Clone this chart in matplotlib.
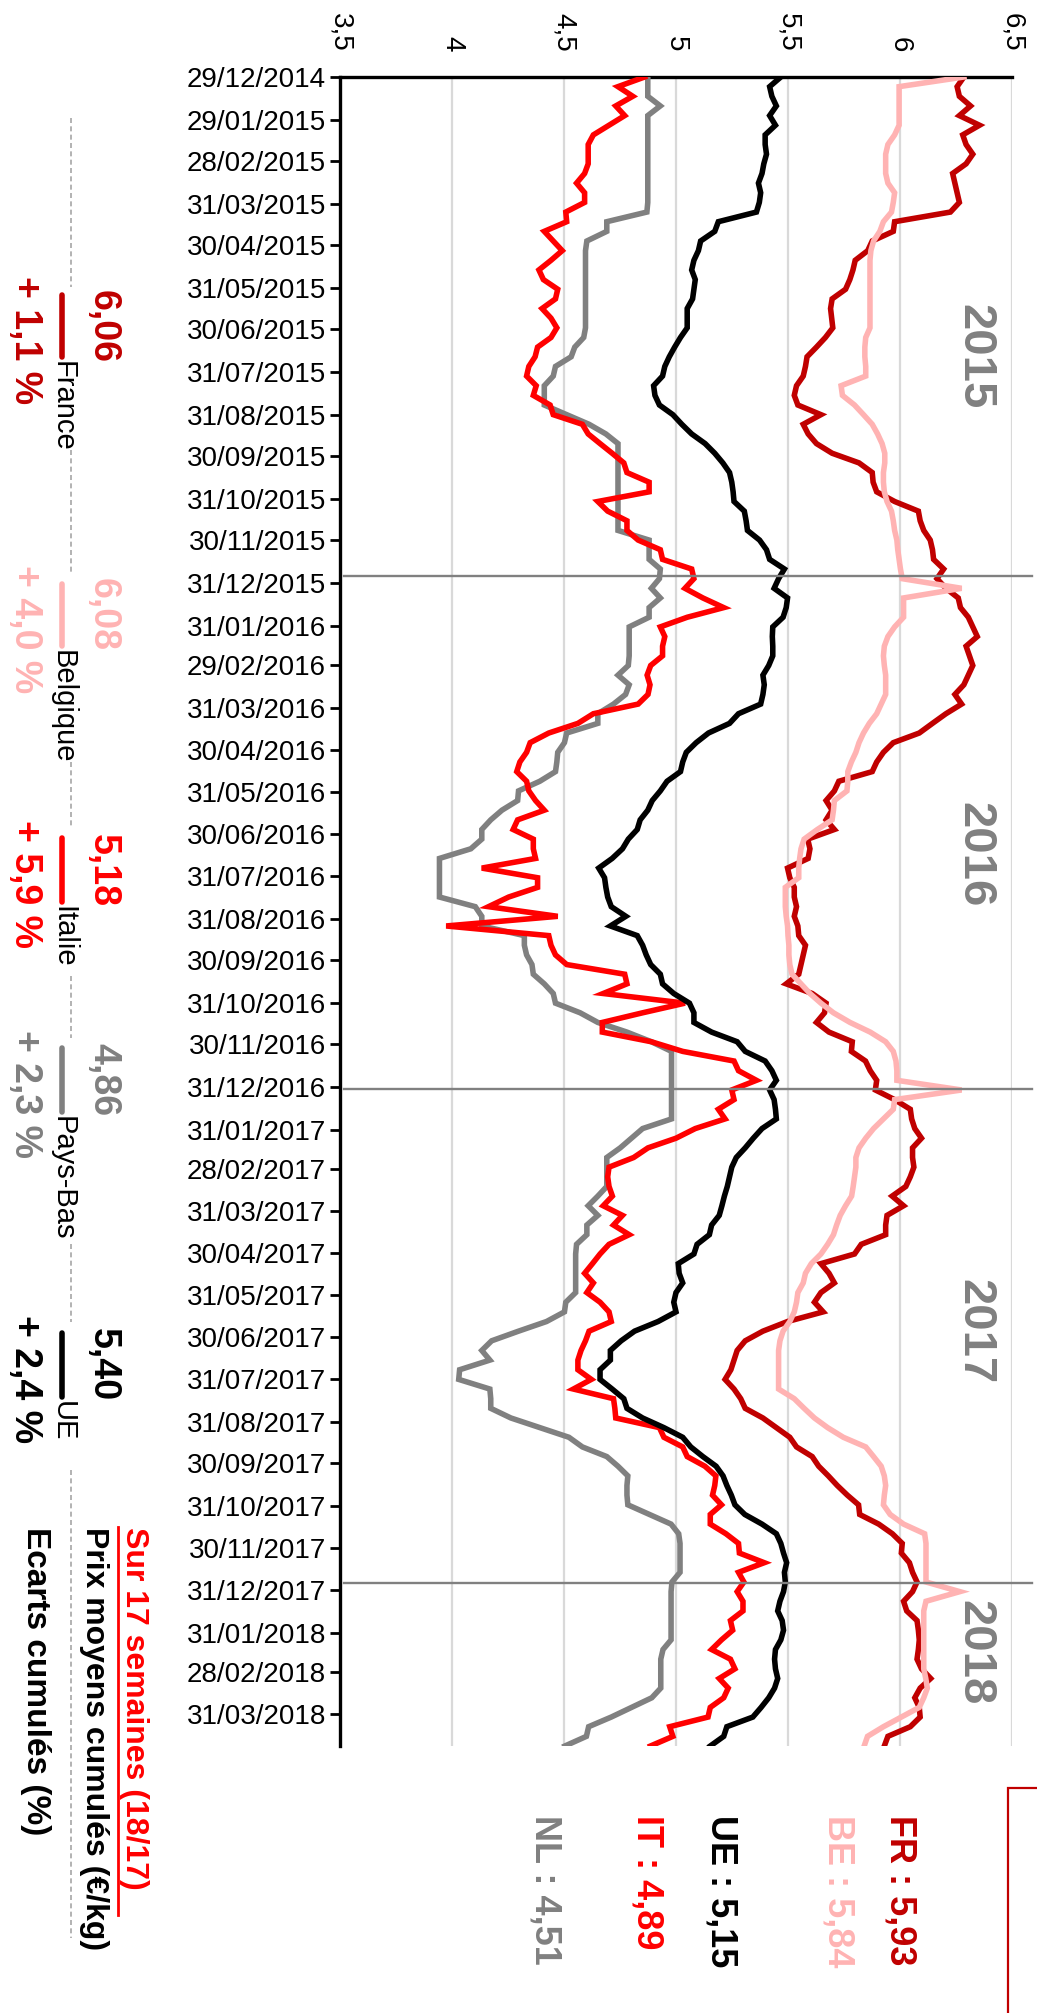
import matplotlib
matplotlib.use("Agg")
import matplotlib.pyplot as plt
import matplotlib.dates as mdates
import pandas as pd

plt.rcParams["font.family"] = ["Liberation Sans", "DejaVu Sans"]

# Weekly average prices (EUR/kg), first week starting 29/12/2014
start_date = "2014-12-29"

fr = [6.285, 6.255, 6.265, 6.315, 6.265, 6.355, 6.28, 6.295, 6.325, 6.295,
      6.235, 6.245, 6.255, 6.265, 6.225, 5.976, 5.97, 5.876, 5.856, 5.80,
      5.79, 5.776, 5.757, 5.697, 5.69, 5.695, 5.70, 5.667, 5.627, 5.585,
      5.578, 5.568, 5.538, 5.528, 5.544, 5.647, 5.568, 5.59, 5.627, 5.697,
      5.817, 5.876, 5.88, 5.896, 5.976, 6.082, 6.09, 6.106, 6.135, 6.145,
      6.15, 6.195, 6.165, 6.205, 6.26, 6.27, 6.305, 6.325, 6.345,
      6.295, 6.31, 6.325, 6.305, 6.285, 6.245, 6.275, 6.205, 6.145, 6.086,
      5.97, 5.926, 5.896, 5.876, 5.727, 5.707, 5.67, 5.697, 5.67, 5.707,
      5.588, 5.598, 5.59, 5.498, 5.508, 5.528, 5.528, 5.538, 5.528,
      5.544, 5.548, 5.578, 5.568, 5.558, 5.548, 5.492, 5.608, 5.67, 5.663,
      5.627, 5.683, 5.787, 5.783, 5.846, 5.867, 5.896, 5.89, 5.976, 6.046,
      6.052, 6.066, 6.096, 6.056, 6.056, 6.062, 6.046, 6.026, 5.965,
      6.016, 5.942, 5.936, 5.936, 5.827, 5.797, 5.647, 5.683, 5.707, 5.647,
      5.618, 5.657, 5.498, 5.388, 5.309, 5.273, 5.259, 5.245, 5.219, 5.259,
      5.289, 5.309, 5.388, 5.448, 5.508, 5.538, 5.608, 5.637, 5.68,
      5.72, 5.765, 5.815, 5.82, 5.905, 5.966, 6.01, 6.006, 6.042, 6.056,
      6.076, 6.056, 6.016, 6.03, 6.076, 6.082, 6.086, 6.082, 6.076, 6.096,
      6.137, 6.09, 6.066, 6.086, 6.09, 6.046, 5.946, 5.93]

be = [6.285, 5.996, 5.996, 5.996, 5.996, 5.996, 5.976, 5.946, 5.936, 5.936,
      5.936, 5.946, 5.976, 5.97, 5.962, 5.926, 5.91, 5.882, 5.87, 5.866,
      5.866, 5.866, 5.866, 5.866, 5.866, 5.866, 5.866, 5.847, 5.843, 5.843,
      5.847, 5.847, 5.737, 5.743, 5.797, 5.837, 5.876, 5.90, 5.92, 5.932,
      5.932, 5.926, 5.926, 5.93, 5.942, 5.962, 5.97, 5.976, 5.986, 5.99,
      5.996, 6.002, 6.01, 6.275, 6.016, 6.016, 6.016, 5.976, 5.946,
      5.93, 5.926, 5.93, 5.936, 5.936, 5.936, 5.916, 5.896, 5.863, 5.837,
      5.817, 5.803, 5.783, 5.767, 5.767, 5.763, 5.707, 5.703, 5.697, 5.631,
      5.572, 5.558, 5.552, 5.548, 5.548, 5.488, 5.488, 5.488, 5.492,
      5.498, 5.5, 5.504, 5.504, 5.508, 5.518, 5.558, 5.598, 5.647, 5.703,
      5.777, 5.867, 5.936, 5.97, 5.982, 5.986, 5.986, 6.275, 5.976, 5.97,
      5.926, 5.882, 5.847, 5.817, 5.803, 5.803, 5.797, 5.791, 5.784,
      5.757, 5.733, 5.717, 5.703, 5.677, 5.647, 5.604, 5.578, 5.568, 5.544,
      5.538, 5.528, 5.508, 5.478, 5.464, 5.458, 5.458, 5.458, 5.458, 5.458,
      5.528, 5.572, 5.618, 5.677, 5.747, 5.847, 5.882, 5.916, 5.93,
      5.936, 5.93, 5.926, 5.956, 6.016, 6.11, 6.116, 6.116, 6.116, 6.116,
      6.116, 6.267, 6.116, 6.106, 6.106, 6.106, 6.106, 6.106, 6.106, 6.106,
      6.115, 6.122, 6.106, 6.086, 6.006, 5.926, 5.855, 5.84]

it = [4.86, 4.741, 4.807, 4.731, 4.771, 4.701, 4.631, 4.608, 4.608, 4.608,
      4.592, 4.556, 4.592, 4.592, 4.508, 4.512, 4.412, 4.452, 4.492, 4.442,
      4.388, 4.408, 4.472, 4.462, 4.402, 4.442, 4.468, 4.442, 4.382, 4.371,
      4.343, 4.333, 4.376, 4.363, 4.438, 4.452, 4.582, 4.608, 4.661, 4.715,
      4.767, 4.781, 4.88, 4.88, 4.651, 4.695, 4.781, 4.781, 4.831, 4.93,
      4.94, 5.07, 5.08, 5.04, 5.12, 5.213, 5.05, 4.93, 4.95,
      4.94, 4.94, 4.887, 4.871, 4.884, 4.875, 4.831, 4.631, 4.562, 4.432,
      4.349, 4.333, 4.303, 4.289, 4.333, 4.343, 4.373, 4.412, 4.293, 4.273,
      4.363, 4.363, 4.373, 4.133, 4.382, 4.382, 4.253, 4.163, 4.472,
      3.974, 4.432, 4.442, 4.462, 4.512, 4.771, 4.781, 4.675, 5.04, 4.851,
      4.671, 4.671, 4.89, 5.03, 5.259, 5.279, 5.359, 5.249, 5.259, 5.189,
      5.219, 5.086, 5.0, 4.875, 4.811, 4.701, 4.695, 4.701, 4.716,
      4.675, 4.761, 4.721, 4.791, 4.701, 4.661, 4.627, 4.592, 4.631, 4.602,
      4.661, 4.701, 4.711, 4.612, 4.596, 4.576, 4.562, 4.562, 4.622, 4.542,
      4.721, 4.727, 4.731, 4.926, 4.946, 5.03, 5.05, 5.129, 5.178,
      5.173, 5.163, 5.203, 5.153, 5.153, 5.223, 5.279, 5.283, 5.394, 5.279,
      5.303, 5.273, 5.299, 5.299, 5.243, 5.253, 5.203, 5.159, 5.243, 5.263,
      5.193, 5.233, 5.213, 5.153, 5.143, 4.972, 4.986, 4.886]

nl = [4.874, 4.874, 4.874, 4.93, 4.874, 4.874, 4.874, 4.874, 4.874, 4.874,
      4.874, 4.874, 4.874, 4.874, 4.87, 4.691, 4.691, 4.602, 4.596, 4.596,
      4.596, 4.596, 4.596, 4.596, 4.596, 4.596, 4.596, 4.588, 4.548, 4.532,
      4.462, 4.452, 4.412, 4.412, 4.412, 4.512, 4.612, 4.687, 4.741, 4.741,
      4.741, 4.741, 4.741, 4.741, 4.741, 4.741, 4.741, 4.741, 4.88, 4.88,
      4.88, 4.93, 4.926, 4.89, 4.93, 4.88, 4.88, 4.791, 4.791,
      4.791, 4.791, 4.787, 4.741, 4.791, 4.775, 4.721, 4.651, 4.651, 4.512,
      4.502, 4.472, 4.468, 4.462, 4.392, 4.297, 4.293, 4.223, 4.173, 4.133,
      4.133, 4.084, 3.944, 3.944, 3.944, 3.944, 3.944, 4.104, 4.133,
      4.133, 4.323, 4.323, 4.333, 4.357, 4.363, 4.412, 4.452, 4.462, 4.572,
      4.651, 4.781, 4.89, 4.98, 4.98, 4.98, 4.98, 4.98, 4.98, 4.98,
      4.98, 4.851, 4.801, 4.751, 4.691, 4.691, 4.691, 4.691, 4.651,
      4.608, 4.651, 4.602, 4.602, 4.556, 4.552, 4.552, 4.552, 4.552, 4.552,
      4.508, 4.502, 4.422, 4.297, 4.177, 4.133, 4.169, 4.034, 4.03, 4.169,
      4.173, 4.173, 4.263, 4.392, 4.522, 4.582, 4.691, 4.741, 4.785,
      4.781, 4.781, 4.785, 4.882, 4.978, 5.012, 5.018, 5.018, 5.018, 5.018,
      4.982, 4.978, 4.978, 4.978, 4.978, 4.978, 4.978, 4.942, 4.932, 4.932,
      4.932, 4.932, 4.892, 4.801, 4.711, 4.61, 4.60, 4.504]

ue = [5.468, 5.418, 5.428, 5.448, 5.418, 5.444, 5.398, 5.398, 5.404, 5.392,
      5.384, 5.368, 5.378, 5.372, 5.359, 5.189, 5.173, 5.11, 5.10, 5.08,
      5.07, 5.086, 5.08, 5.074, 5.05, 5.05, 5.05, 5.02, 4.994, 4.97,
      4.95, 4.94, 4.90, 4.906, 4.926, 4.986, 5.026, 5.07, 5.13, 5.173,
      5.209, 5.239, 5.249, 5.255, 5.259, 5.305, 5.313, 5.319, 5.373, 5.404,
      5.418, 5.484, 5.458, 5.438, 5.498, 5.492, 5.478, 5.432, 5.43,
      5.432, 5.432, 5.414, 5.388, 5.394, 5.388, 5.378, 5.279, 5.239, 5.145,
      5.09, 5.046, 5.03, 5.02, 4.96, 4.93, 4.894, 4.874, 4.84, 4.827,
      4.787, 4.761, 4.715, 4.655, 4.681, 4.687, 4.695, 4.711, 4.776,
      4.707, 4.827, 4.851, 4.867, 4.887, 4.93, 4.94, 4.99, 5.06, 5.08,
      5.08, 5.159, 5.273, 5.309, 5.398, 5.428, 5.448, 5.418, 5.438, 5.444,
      5.448, 5.384, 5.345, 5.309, 5.269, 5.249, 5.239, 5.229, 5.216,
      5.205, 5.193, 5.159, 5.149, 5.094, 5.08, 5.01, 5.014, 5.03, 5.0,
      4.99, 5.0, 4.92, 4.815, 4.755, 4.707, 4.707, 4.661, 4.661, 4.715,
      4.767, 4.781, 4.851, 4.946, 5.03, 5.066, 5.12, 5.179, 5.21,
      5.227, 5.247, 5.263, 5.307, 5.384, 5.448, 5.468, 5.48, 5.494, 5.484,
      5.488, 5.48, 5.464, 5.454, 5.474, 5.48, 5.468, 5.444, 5.44, 5.444,
      5.454, 5.44, 5.414, 5.38, 5.343, 5.227, 5.213, 5.153]

date_ticks = ["29/12/2014", "29/01/2015", "28/02/2015", "31/03/2015", "30/04/2015",
              "31/05/2015", "30/06/2015", "31/07/2015", "31/08/2015", "30/09/2015",
              "31/10/2015", "30/11/2015", "31/12/2015", "31/01/2016", "29/02/2016",
              "31/03/2016", "30/04/2016", "31/05/2016", "30/06/2016", "31/07/2016",
              "31/08/2016", "30/09/2016", "31/10/2016", "30/11/2016", "31/12/2016",
              "31/01/2017", "28/02/2017", "31/03/2017", "30/04/2017", "31/05/2017",
              "30/06/2017", "31/07/2017", "31/08/2017", "30/09/2017", "31/10/2017",
              "30/11/2017", "31/12/2017", "31/01/2018", "28/02/2018", "31/03/2018"]
value_ticks = [3.5, 4.0, 4.5, 5.0, 5.5, 6.0, 6.5]
value_tick_labels = ["3,5", "4", "4,5", "5", "5,5", "6", "6,5"]

year_breaks = ["2015-12-26", "2017-01-01", "2017-12-26"]
year_labels = ["2015", "2016", "2017", "2018"]
year_label_dates = ["2015-07-20", "2016-07-15", "2017-06-26", "2018-02-14"]

countries = ["France", "Belgique", "Italie", "Pays-Bas", "UE"]
cumul_prices = ["6,06", "6,08", "5,18", "4,86", "5,40"]
cumul_changes = ["+ 1,1 %", "+ 4,0 %", "+ 5,9 %", "+ 2,3 %", "+ 2,4 %"]
last_codes = ["FR", "BE", "UE", "IT", "NL"]
last_values = ["5,93", "5,84", "5,15", "4,89", "4,51"]

C_FR, C_BE, C_IT, C_NL, C_UE = "#C00000", "#FFB3B3", "#FF0000", "#808080", "#000000"
colors = {"France": C_FR, "Belgique": C_BE, "Italie": C_IT, "Pays-Bas": C_NL, "UE": C_UE}
code_colors = {"FR": C_FR, "BE": C_BE, "UE": C_UE, "IT": C_IT, "NL": C_NL}

W, H = 1037, 2013
fig = plt.figure(figsize=(W / 100, H / 100), dpi=100)
fig.patch.set_facecolor("white")


def fx(px):
    return px / W


def fy(py):
    return 1 - py / H


ax_left, ax_right, ax_top, ax_bot = 340, 1012, 77, 1746
ax = fig.add_axes([fx(ax_left), fy(ax_bot), fx(ax_right - ax_left), (ax_bot - ax_top) / H])

weeks = pd.date_range(start_date, periods=len(fr), freq="7D")
series = [(fr, C_FR), (be, C_BE), (nl, C_NL), (it, C_IT), (ue, C_UE)]
for vals, col in series:
    ax.plot(vals, weeks, color=col, lw=4.0, solid_joinstyle="miter", zorder=3)

ax.set_xlim(3.5, 6.5)
ax.set_ylim(weeks[-1], weeks[0])

# value axis on top, labels rotated
ax.xaxis.tick_top()
ax.set_xticks(value_ticks)
ax.set_xticklabels(value_tick_labels, rotation=-90, fontsize=20)
ax.tick_params(axis="x", length=0, pad=18)
for lab in ax.get_xticklabels():
    lab.set_verticalalignment("bottom")
ax.xaxis.grid(True, color="#D9D9D9", lw=1.6)
ax.set_axisbelow(True)

tick_dates = pd.to_datetime(date_ticks, format="%d/%m/%Y")
ax.set_yticks(mdates.date2num(tick_dates))
ax.set_yticklabels(date_ticks, fontsize=20)
ax.tick_params(axis="y", length=7, width=2, pad=3, direction="out")

for side in ["right", "bottom"]:
    ax.spines[side].set_visible(False)
ax.spines["left"].set_linewidth(2.4)
ax.spines["top"].set_linewidth(2.4)

# year separators and labels
for d in year_breaks:
    ax.plot([3.52, 6.59], [pd.Timestamp(d)] * 2, color="#808080", lw=1.7,
            clip_on=False, zorder=4)
for lab, d in zip(year_labels, year_label_dates):
    ax.text(6.33, pd.Timestamp(d), lab, rotation=-90, ha="center", va="center",
            fontsize=34, fontweight="bold", color="#808080", zorder=5)

# latest values, bottom right
code_x = [900, 838, 721, 647, 545]
for code, val, xc in zip(last_codes, last_values, code_x):
    fig.text(fx(xc), fy(1815), f"{code} : {val}", rotation=-90, ha="center", va="top",
             fontsize=26, fontweight="bold", color=code_colors[code])

# cumulative legend on the left
marker_span = [(295, 357), (584, 646), (838, 902), (1048, 1112), (1333, 1397)]
for name, price, chg, (y0, y1) in zip(countries, cumul_prices, cumul_changes, marker_span):
    col = colors[name]
    fig.add_artist(plt.Line2D([fx(62), fx(62)], [fy(y0), fy(y1)], color=col, lw=4.0,
                              solid_capstyle="round"))
    fig.text(fx(63), fy(y1 + 4), name, rotation=-90, ha="center", va="top",
             fontsize=21, color="black")
    yc = (y0 + y1) / 2
    fig.text(fx(103), fy(yc), price, rotation=-90, ha="center", va="center",
             fontsize=27, fontweight="bold", color=col)
    fig.text(fx(25), fy(yc + 14), chg, rotation=-90, ha="center", va="center",
             fontsize=27, fontweight="bold", color=col)

dash_segments = [(118, 287), (450, 574), (762, 828), (976, 1038), (1244, 1322), (1470, 1938)]
for a, b in dash_segments:
    fig.add_artist(plt.Line2D([fx(71), fx(71)], [fy(a), fy(b)], color="#A6A6A6", lw=1.2,
                              ls=(0, (3, 2))))

fig.text(fx(134), fy(1527), "Sur 17 semaines (18/17)", rotation=-90, ha="center", va="top",
         fontsize=23, fontweight="bold", color="#FF0000")
fig.add_artist(plt.Line2D([fx(118), fx(118)], [fy(1527), fy(1915)], color="#FF0000", lw=2))
fig.text(fx(94), fy(1527), "Prix moyens cumulés (€/kg)", rotation=-90, ha="center", va="top",
         fontsize=23, fontweight="bold", color="black")
fig.text(fx(35), fy(1527), "Ecarts cumulés (%)", rotation=-90, ha="center", va="top",
         fontsize=24, fontweight="bold", color="black")

# framed note box, partly off the page
fig.add_artist(plt.Rectangle((fx(1008), fy(2030)), fx(60), (2030 - 1788) / H,
                             fill=False, edgecolor="#C00000", lw=1.6))

fig.savefig("out.png", dpi=100, facecolor="white")
